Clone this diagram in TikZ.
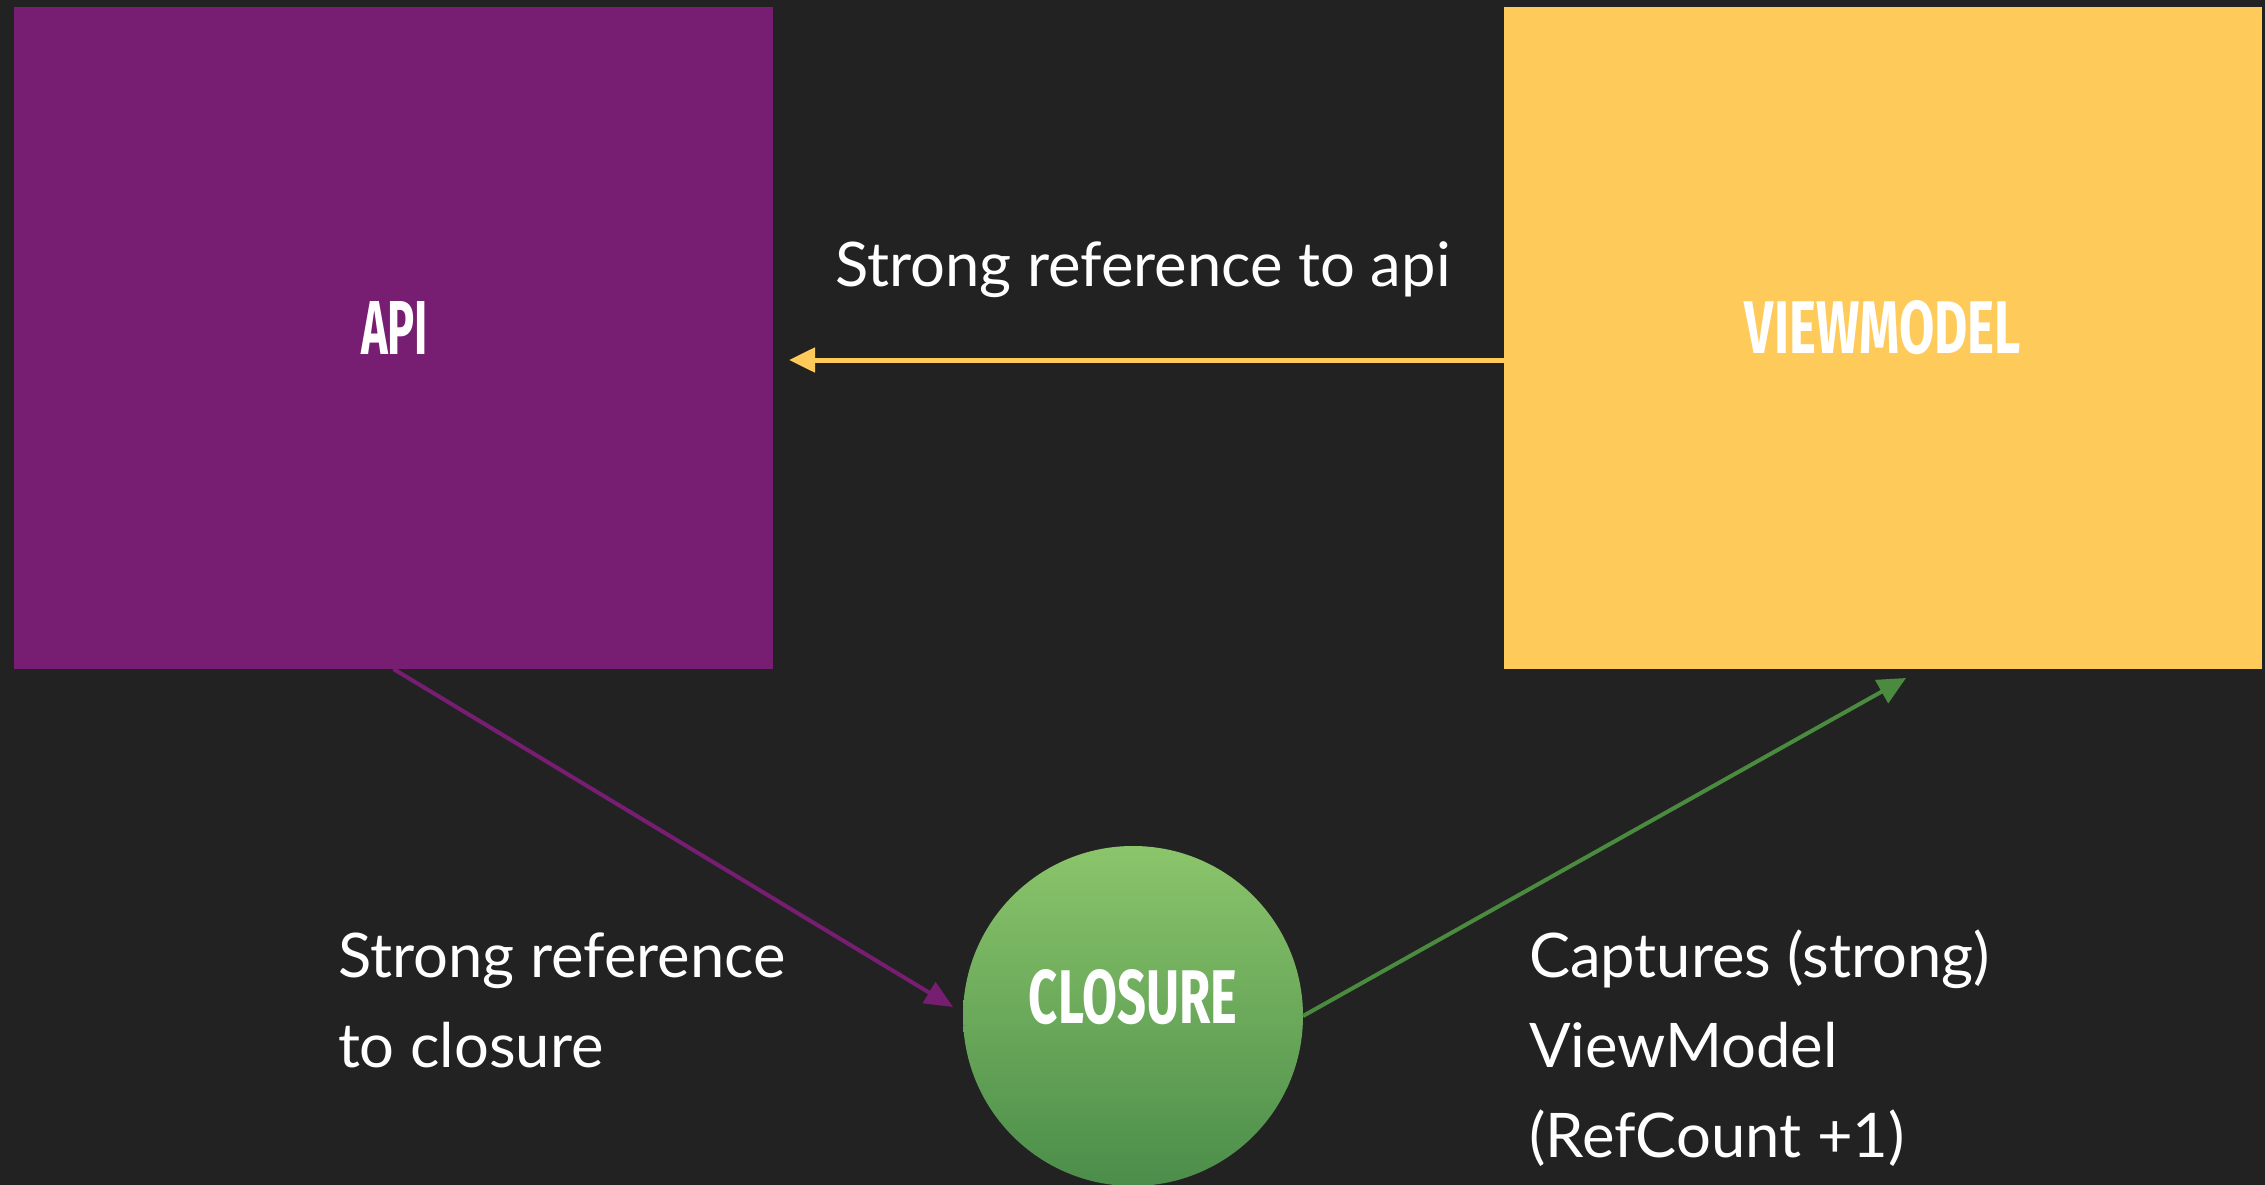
\documentclass[tikz,border=0pt]{standalone}
\usepackage{fontspec}
\setmainfont{Lato}
\newfontfamily\titlefont{Fira Sans}
\usetikzlibrary{arrows.meta,shapes.geometric}
\definecolor{bg}{HTML}{222222}
\definecolor{apipurple}{HTML}{781E72}
\definecolor{vmyellow}{HTML}{FECA59}
\definecolor{gtop}{HTML}{8BC56B}
\definecolor{gbot}{HTML}{4B8D4A}
\definecolor{garr}{HTML}{4A8B40}
\tikzset{
  block/.style={rectangle, inner sep=0pt, outer sep=0pt, draw=none},
  titletext/.style={inner sep=0pt, outer sep=0pt, text=white, font=\titlefont\bfseries},
  lbl/.style={inner sep=0pt, outer sep=0pt, text=white, anchor=base west, font=\fontsize{61.5}{90}\selectfont},
  yarrow/.style={draw=vmyellow, line width=5pt, -{Triangle[length=26pt,width=24pt]}},
  parrow/.style={draw=apipurple, line width=4pt, -{Triangle[length=28pt,width=24pt]}},
  garrow/.style={draw=garr, line width=4pt, -{Triangle[length=28pt,width=26pt]}}
}
\begin{document}
\begin{tikzpicture}[x=1pt,y=-1pt]
\fill[bg] (0,0) rectangle (2265,1185);
\useasboundingbox (0,0) rectangle (2265,1185);
\node[block, fill=apipurple, minimum width=759pt, minimum height=662pt] (api) at (393.5,338) {};
\node[block, fill=vmyellow, minimum width=758pt, minimum height=662pt] (vm) at (1883,338) {};
\node[circle, inner sep=0pt, outer sep=0pt, minimum size=340pt, draw=none, top color=gtop, bottom color=gbot] (clo) at (1133,1016) {};
\node[titletext] (apit) at (394.5,327.5) {\resizebox{67pt}{53pt}{API}};
\node[titletext] (vmt) at (1883,328) {\resizebox{276pt}{53pt}{VIEWMODEL}};
\node[titletext] (clot) at (1133,997) {\resizebox{208pt}{54pt}{CLOSURE}};
\node[lbl] (l1) at (835,287) {Strong reference to api};
\node[lbl] (l2a) at (338,977) {Strong reference};
\node[lbl] (l2b) at (338,1067) {to closure};
\node[lbl] (l3a) at (1529,977) {Captures (strong)};
\node[lbl] (l3b) at (1529,1067) {ViewModel};
\node[lbl] (l3c) at (1529,1157) {(RefCount +1)};
\draw[yarrow] ([yshift=-22pt]vm.west) -- ([xshift=16pt,yshift=-22pt]api.east);
\draw[parrow] (api.south) -- ([xshift=-10pt,yshift=9pt]clo.west);
\draw[garrow] (clo.east) -- ([xshift=23pt,yshift=-9pt]vm.south);
\end{tikzpicture}
\end{document}
